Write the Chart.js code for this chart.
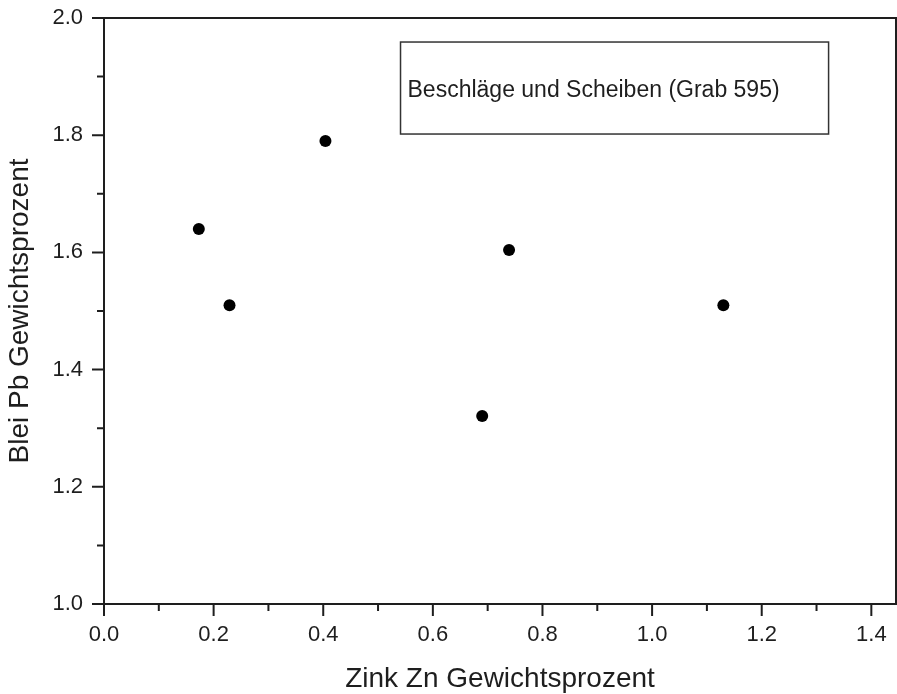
<!DOCTYPE html>
<html>
<head>
<meta charset="utf-8">
<script src="https://cdn.jsdelivr.net/npm/chart.js@4"></script>
<style>
  html, body { margin:0; padding:0; background:#fff; }
  #wrap { width:897px; height:694px; }
</style>
</head>
<body>
<div id="wrap"><canvas id="c"></canvas></div>
<script>
// values
const zinc = [0.173, 0.229, 0.404, 0.690, 0.739, 1.130];
const lead = [1.640, 1.510, 1.790, 1.321, 1.604, 1.510];
const xTicks = [0.0, 0.2, 0.4, 0.6, 0.8, 1.0, 1.2, 1.4];
const yTicks = [1.0, 1.2, 1.4, 1.6, 1.8, 2.0];
const seriesLabel = 'Beschläge und Scheiben (Grab 595)';

const ink = '#1e1e1e';
const font = 'Liberation Sans, Arial, sans-serif';

const isMajor = (v, list) => list.some(t => Math.abs(t - v) < 1e-6);

// frame, outward tick marks, and the boxed series label
const framePlugin = {
  id: 'frame',
  afterDraw(chart) {
    const {ctx, chartArea: a, scales: {x, y}} = chart;
    ctx.save();
    ctx.strokeStyle = ink;
    ctx.lineWidth = 2;
    ctx.strokeRect(a.left, a.top, a.right - a.left, a.bottom - a.top);
    ctx.beginPath();
    x.ticks.forEach(t => {
      const px = x.getPixelForValue(t.value);
      const len = isMajor(t.value, xTicks) ? 12 : 7;
      ctx.moveTo(px, a.bottom); ctx.lineTo(px, a.bottom + len);
    });
    y.ticks.forEach(t => {
      const py = y.getPixelForValue(t.value);
      const len = isMajor(t.value, yTicks) ? 12 : 7;
      ctx.moveTo(a.left, py); ctx.lineTo(a.left - len, py);
    });
    ctx.stroke();

    // label box
    const bx0 = x.getPixelForValue(0.541), bx1 = x.getPixelForValue(1.322);
    const by0 = y.getPixelForValue(1.959), by1 = y.getPixelForValue(1.802);
    ctx.lineWidth = 1.5;
    ctx.strokeStyle = '#333';
    ctx.strokeRect(bx0, by0, bx1 - bx0, by1 - by0);
    ctx.fillStyle = ink;
    ctx.font = '23px ' + font;
    ctx.textBaseline = 'middle';
    ctx.textAlign = 'left';
    ctx.fillText(seriesLabel, bx0 + 7, (by0 + by1) / 2 + 3);
    ctx.restore();
  }
};

new Chart(document.getElementById('c'), {
  type: 'scatter',
  data: {
    datasets: [{
      label: seriesLabel,
      data: zinc.map((v, i) => ({x: v, y: lead[i]})),
      pointRadius: 6,
      pointHoverRadius: 6,
      pointBackgroundColor: '#000',
      pointBorderColor: '#000',
      pointBorderWidth: 0
    }]
  },
  options: {
    responsive: true,
    maintainAspectRatio: false,
    animation: false,
    layout: {autoPadding: false, padding: {top: 18, right: 1, left: 0, bottom: 0}},
    plugins: {legend: {display: false}, tooltip: {enabled: false}},
    scales: {
      x: {
        type: 'linear',
        min: 0,
        max: 1.445,
        afterFit(s) { s.height = 90; s.paddingLeft = 0; s.paddingRight = 0; },
        grid: {display: true, drawOnChartArea: false, drawTicks: false},
        border: {display: false},
        ticks: {
          stepSize: 0.1,
          includeBounds: false,
          autoSkip: false,
          maxRotation: 0,
          padding: 18,
          color: ink,
          font: {family: font, size: 22},
          callback: v => isMajor(v, xTicks) ? v.toFixed(1) : ''
        },
        title: {
          display: true,
          text: 'Zink Zn Gewichtsprozent',
          color: ink,
          font: {family: font, size: 28, lineHeight: 1},
          padding: {top: 0, bottom: 1}
        }
      },
      y: {
        type: 'linear',
        min: 1.0,
        max: 2.0,
        afterFit(s) { s.width = 104; s.paddingTop = 0; s.paddingBottom = 0; },
        grid: {display: true, drawOnChartArea: false, drawTicks: false},
        border: {display: false},
        ticks: {
          stepSize: 0.1,
          autoSkip: false,
          padding: 21,
          color: ink,
          font: {family: font, size: 22},
          callback: v => isMajor(v, yTicks) ? v.toFixed(1) : ''
        },
        title: {
          display: true,
          text: 'Blei Pb Gewichtsprozent',
          color: ink,
          font: {family: font, size: 28, lineHeight: 1},
          padding: {top: 6, bottom: 0}
        }
      }
    }
  },
  plugins: [framePlugin]
});
</script>
</body>
</html>
